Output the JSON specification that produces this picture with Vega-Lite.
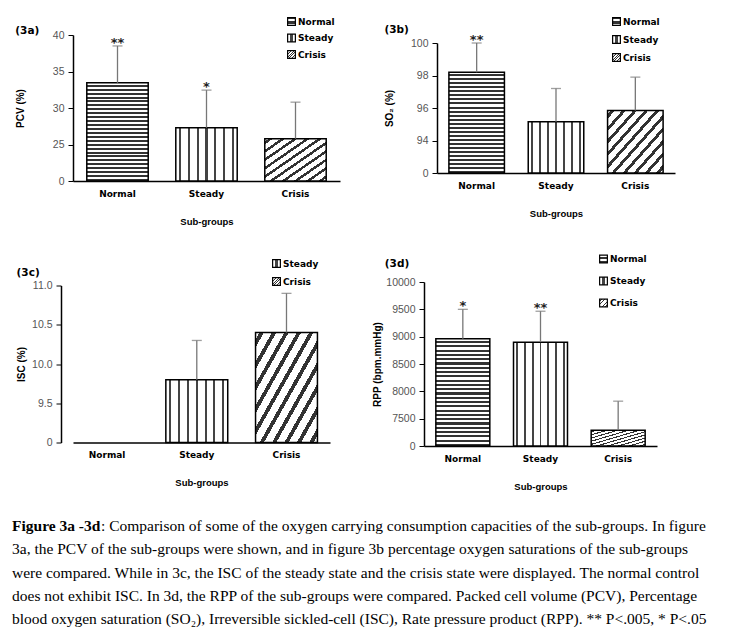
{
  "$schema": "https://vega.github.io/schema/vega-lite/v6.json",
  "padding": {"left": 12, "top": 17, "right": 0, "bottom": 0},
  "params": [
    {"name": "gN", "expr": "{gradient:'linear',x1:0,y1:0,x2:0,y2:1,stops:[{offset:0,color:'#fff'},{offset:0.02,color:'#fff'},{offset:0.02,color:'#333'},{offset:0.04,color:'#333'},{offset:0.04,color:'#fff'},{offset:0.06,color:'#fff'},{offset:0.06,color:'#333'},{offset:0.08,color:'#333'},{offset:0.08,color:'#fff'},{offset:0.1,color:'#fff'},{offset:0.1,color:'#333'},{offset:0.12,color:'#333'},{offset:0.12,color:'#fff'},{offset:0.14,color:'#fff'},{offset:0.14,color:'#333'},{offset:0.16,color:'#333'},{offset:0.16,color:'#fff'},{offset:0.18,color:'#fff'},{offset:0.18,color:'#333'},{offset:0.2,color:'#333'},{offset:0.2,color:'#fff'},{offset:0.22,color:'#fff'},{offset:0.22,color:'#333'},{offset:0.24,color:'#333'},{offset:0.24,color:'#fff'},{offset:0.26,color:'#fff'},{offset:0.26,color:'#333'},{offset:0.28,color:'#333'},{offset:0.28,color:'#fff'},{offset:0.3,color:'#fff'},{offset:0.3,color:'#333'},{offset:0.32,color:'#333'},{offset:0.32,color:'#fff'},{offset:0.34,color:'#fff'},{offset:0.34,color:'#333'},{offset:0.36,color:'#333'},{offset:0.36,color:'#fff'},{offset:0.38,color:'#fff'},{offset:0.38,color:'#333'},{offset:0.4,color:'#333'},{offset:0.4,color:'#fff'},{offset:0.42,color:'#fff'},{offset:0.42,color:'#333'},{offset:0.44,color:'#333'},{offset:0.44,color:'#fff'},{offset:0.46,color:'#fff'},{offset:0.46,color:'#333'},{offset:0.48,color:'#333'},{offset:0.48,color:'#fff'},{offset:0.5,color:'#fff'},{offset:0.5,color:'#333'},{offset:0.52,color:'#333'},{offset:0.52,color:'#fff'},{offset:0.54,color:'#fff'},{offset:0.54,color:'#333'},{offset:0.56,color:'#333'},{offset:0.56,color:'#fff'},{offset:0.58,color:'#fff'},{offset:0.58,color:'#333'},{offset:0.6,color:'#333'},{offset:0.6,color:'#fff'},{offset:0.62,color:'#fff'},{offset:0.62,color:'#333'},{offset:0.64,color:'#333'},{offset:0.64,color:'#fff'},{offset:0.66,color:'#fff'},{offset:0.66,color:'#333'},{offset:0.68,color:'#333'},{offset:0.68,color:'#fff'},{offset:0.7,color:'#fff'},{offset:0.7,color:'#333'},{offset:0.72,color:'#333'},{offset:0.72,color:'#fff'},{offset:0.74,color:'#fff'},{offset:0.74,color:'#333'},{offset:0.76,color:'#333'},{offset:0.76,color:'#fff'},{offset:0.78,color:'#fff'},{offset:0.78,color:'#333'},{offset:0.8,color:'#333'},{offset:0.8,color:'#fff'},{offset:0.82,color:'#fff'},{offset:0.82,color:'#333'},{offset:0.84,color:'#333'},{offset:0.84,color:'#fff'},{offset:0.86,color:'#fff'},{offset:0.86,color:'#333'},{offset:0.88,color:'#333'},{offset:0.88,color:'#fff'},{offset:0.9,color:'#fff'},{offset:0.9,color:'#333'},{offset:0.92,color:'#333'},{offset:0.92,color:'#fff'},{offset:0.94,color:'#fff'},{offset:0.94,color:'#333'},{offset:0.96,color:'#333'},{offset:0.96,color:'#fff'},{offset:0.98,color:'#fff'},{offset:0.98,color:'#333'},{offset:1,color:'#333'}]}"},
    {"name": "gS", "expr": "{gradient:'linear',x1:0,y1:0,x2:1,y2:0,stops:[{offset:0,color:'#fff'},{offset:0.055,color:'#fff'},{offset:0.055,color:'#444'},{offset:0.088,color:'#444'},{offset:0.088,color:'#fff'},{offset:0.198,color:'#fff'},{offset:0.198,color:'#444'},{offset:0.231,color:'#444'},{offset:0.231,color:'#fff'},{offset:0.34,color:'#fff'},{offset:0.34,color:'#444'},{offset:0.374,color:'#444'},{offset:0.374,color:'#fff'},{offset:0.483,color:'#fff'},{offset:0.483,color:'#444'},{offset:0.517,color:'#444'},{offset:0.517,color:'#fff'},{offset:0.626,color:'#fff'},{offset:0.626,color:'#444'},{offset:0.66,color:'#444'},{offset:0.66,color:'#fff'},{offset:0.769,color:'#fff'},{offset:0.769,color:'#444'},{offset:0.802,color:'#444'},{offset:0.802,color:'#fff'},{offset:0.912,color:'#fff'},{offset:0.912,color:'#444'},{offset:0.945,color:'#444'},{offset:0.945,color:'#fff'},{offset:1,color:'#fff'}]}"},
    {"name": "gC", "expr": "{gradient:'linear',x1:0,y1:0,x2:1,y2:1,stops:[{offset:0,color:'#fff'},{offset:0.0325,color:'#fff'},{offset:0.0325,color:'#333'},{offset:0.0675,color:'#333'},{offset:0.0675,color:'#fff'},{offset:0.1325,color:'#fff'},{offset:0.1325,color:'#333'},{offset:0.1675,color:'#333'},{offset:0.1675,color:'#fff'},{offset:0.2325,color:'#fff'},{offset:0.2325,color:'#333'},{offset:0.2675,color:'#333'},{offset:0.2675,color:'#fff'},{offset:0.3325,color:'#fff'},{offset:0.3325,color:'#333'},{offset:0.3675,color:'#333'},{offset:0.3675,color:'#fff'},{offset:0.4325,color:'#fff'},{offset:0.4325,color:'#333'},{offset:0.4675,color:'#333'},{offset:0.4675,color:'#fff'},{offset:0.5325,color:'#fff'},{offset:0.5325,color:'#333'},{offset:0.5675,color:'#333'},{offset:0.5675,color:'#fff'},{offset:0.6325,color:'#fff'},{offset:0.6325,color:'#333'},{offset:0.6675,color:'#333'},{offset:0.6675,color:'#fff'},{offset:0.7325,color:'#fff'},{offset:0.7325,color:'#333'},{offset:0.7675,color:'#333'},{offset:0.7675,color:'#fff'},{offset:0.8325,color:'#fff'},{offset:0.8325,color:'#333'},{offset:0.8675,color:'#333'},{offset:0.8675,color:'#fff'},{offset:0.9325,color:'#fff'},{offset:0.9325,color:'#333'},{offset:0.9675,color:'#333'},{offset:0.9675,color:'#fff'},{offset:1,color:'#fff'}]}"}
  ],
  "datasets": {
    "bars": [
      {"panel": "3a", "group": "Normal", "value": 33.45, "upper": 38.5, "star": "**"},
      {"panel": "3a", "group": "Steady", "value": 27.3, "upper": 32.45, "star": "*"},
      {"panel": "3a", "group": "Crisis", "value": 25.8, "upper": 30.8, "star": ""},
      {"panel": "3b", "group": "Normal", "value": 98.2, "upper": 100, "star": "**"},
      {"panel": "3b", "group": "Steady", "value": 95.15, "upper": 97.2, "star": ""},
      {"panel": "3b", "group": "Crisis", "value": 95.85, "upper": 97.9, "star": ""},
      {"panel": "3c", "group": "Steady", "value": 9.8, "upper": 10.3, "star": ""},
      {"panel": "3c", "group": "Crisis", "value": 10.4, "upper": 10.9, "star": ""},
      {"panel": "3d", "group": "Normal", "value": 8960, "upper": 9500, "star": "*"},
      {"panel": "3d", "group": "Steady", "value": 8900, "upper": 9465, "star": "**"},
      {"panel": "3d", "group": "Crisis", "value": 7290, "upper": 7820, "star": ""}
    ],
    "caption": [
      {"line": 1, "part": "bold", "text": "Figure 3a -3d"},
      {"line": 1, "part": "rest", "text": ": Comparison of some of the oxygen carrying consumption capacities of the sub-groups. In figure"},
      {"line": 2, "part": "body", "text": "3a, the PCV of the sub-groups were shown, and in figure 3b percentage oxygen saturations of the sub-groups"},
      {"line": 3, "part": "body", "text": "were compared. While in 3c, the ISC of the steady state and the crisis state were displayed. The normal control"},
      {"line": 4, "part": "body", "text": "does not exhibit ISC. In 3d, the RPP of the sub-groups were compared. Packed cell volume (PCV), Percentage"},
      {"line": 5, "part": "body", "text": "blood oxygen saturation (SO₂), Irreversible sickled-cell (ISC), Rate pressure product (RPP). ** P<.005, * P<.05"}
    ]
  },
  "vconcat": [
    {
      "vconcat": [
        {
          "hconcat": [
            {
              "width": 267, "height": 146,
              "title": {"text": "(3a)", "offset": -19},
              "data": {"name": "bars"},
              "transform": [{"filter": "datum.panel == '3a'"}],
              "encoding": {"x": {"field": "group", "type": "nominal", "scale": {"domain": ["Normal", "Steady", "Crisis"], "paddingInner": 0.31, "paddingOuter": 0.155}, "axis": {"title": "Sub-groups", "labelAngle": 0}}},
              "layer": [
                {"mark": {"type": "bar", "stroke": "black", "strokeWidth": 1.5},
                 "encoding": {
                   "y": {"field": "value", "type": "quantitative", "title": "PCV (%)", "scale": {"domain": [20, 40], "nice": false, "zero": false}, "axis": {"values": [20, 25, 30, 35, 40], "labelExpr": "datum.value == 20 ? '0' : datum.label", "titlePadding": 27, "titleFontSize": 10}},
                   "y2": {"datum": 20},
                   "fill": {"field": "group", "type": "nominal", "scale": {"domain": ["Normal", "Steady", "Crisis"], "range": [{"expr": "gN"}, {"expr": "gS"}, {"expr": "gC"}]}, "legend": {"title": null, "legendX": 214, "legendY": -18, "rowPadding": 3.5}}
                 }},
                {"mark": {"type": "rule", "color": "#777", "strokeWidth": 1.3},
                 "encoding": {"y": {"field": "value", "type": "quantitative", "title": "PCV (%)", "axis": {"values": [20, 25, 30, 35, 40], "labelExpr": "datum.value == 20 ? '0' : datum.label", "titlePadding": 27, "titleFontSize": 10}}, "y2": {"field": "upper"}}},
                {"mark": {"type": "tick", "color": "#777", "thickness": 1.3, "size": 10},
                 "encoding": {"y": {"field": "upper", "type": "quantitative", "title": "PCV (%)", "axis": {"values": [20, 25, 30, 35, 40], "labelExpr": "datum.value == 20 ? '0' : datum.label", "titlePadding": 27, "titleFontSize": 10}}}},
                {"mark": {"type": "text", "font": "DejaVu Sans", "fontWeight": "bold", "fontSize": 13, "baseline": "alphabetic", "dy": 1, "color": "#222"},
                 "encoding": {"y": {"field": "upper", "type": "quantitative", "title": "PCV (%)", "axis": {"values": [20, 25, 30, 35, 40], "labelExpr": "datum.value == 20 ? '0' : datum.label", "titlePadding": 27, "titleFontSize": 10}}, "text": {"field": "star"}}}
              ]
            },
            {
              "width": 238, "height": 130,
              "title": {"text": "(3b)", "offset": -18},
              "data": {"name": "bars"},
              "transform": [{"filter": "datum.panel == '3b'"}],
              "encoding": {"x": {"field": "group", "type": "nominal", "scale": {"domain": ["Normal", "Steady", "Crisis"], "paddingInner": 0.3, "paddingOuter": 0.15}, "axis": {"title": "Sub-groups", "labelAngle": 0}}},
              "layer": [
                {"mark": {"type": "bar", "stroke": "black", "strokeWidth": 1.5},
                 "encoding": {
                   "y": {"field": "value", "type": "quantitative", "title": "SO₂ (%)", "scale": {"domain": [92, 100], "nice": false, "zero": false}, "axis": {"values": [92, 94, 96, 98, 100], "format": "d", "labelExpr": "datum.value == 92 ? '0' : datum.label", "titlePadding": 16, "titleFontSize": 10}},
                   "y2": {"datum": 92},
                   "fill": {"field": "group", "type": "nominal", "scale": {"domain": ["Normal", "Steady", "Crisis"], "range": [{"expr": "gN"}, {"expr": "gS"}, {"expr": "gC"}]}, "legend": {"title": null, "legendX": 175, "legendY": -26, "rowPadding": 5}}
                 }},
                {"mark": {"type": "rule", "color": "#777", "strokeWidth": 1.3},
                 "encoding": {"y": {"field": "value", "type": "quantitative", "title": "SO₂ (%)", "axis": {"values": [92, 94, 96, 98, 100], "format": "d", "labelExpr": "datum.value == 92 ? '0' : datum.label", "titlePadding": 16, "titleFontSize": 10}}, "y2": {"field": "upper"}}},
                {"mark": {"type": "tick", "color": "#777", "thickness": 1.3, "size": 10},
                 "encoding": {"y": {"field": "upper", "type": "quantitative", "title": "SO₂ (%)", "axis": {"values": [92, 94, 96, 98, 100], "format": "d", "labelExpr": "datum.value == 92 ? '0' : datum.label", "titlePadding": 16, "titleFontSize": 10}}}},
                {"mark": {"type": "text", "font": "DejaVu Sans", "fontWeight": "bold", "fontSize": 13, "baseline": "alphabetic", "dy": 1, "color": "#222"},
                 "encoding": {"y": {"field": "upper", "type": "quantitative", "title": "SO₂ (%)", "axis": {"values": [92, 94, 96, 98, 100], "format": "d", "labelExpr": "datum.value == 92 ? '0' : datum.label", "titlePadding": 16, "titleFontSize": 10}}, "text": {"field": "star"}}}
              ]
            }
          ],
          "spacing": 97, "bounds": "flush", "center": true,
          "resolve": {"scale": {"fill": "independent"}, "legend": {"fill": "independent"}}
        },
        {
          "hconcat": [
            {
              "width": 257, "height": 157,
              "title": {"text": "(3c)", "offset": -19.5},
              "data": {"name": "bars"},
              "transform": [{"filter": "datum.panel == '3c'"}],
              "encoding": {"x": {"field": "group", "type": "nominal", "scale": {"domain": ["Normal", "Steady", "Crisis"], "paddingInner": 0.31, "paddingOuter": 0.0875, "align": 0.2}, "axis": {"title": "Sub-groups", "labelAngle": 0}}},
              "layer": [
                {"mark": {"type": "bar", "stroke": "black", "strokeWidth": 1.5},
                 "encoding": {
                   "y": {"field": "value", "type": "quantitative", "title": "ISC (%)", "scale": {"domain": [9, 11], "nice": false, "zero": false}, "axis": {"offset": 12, "values": [9, 9.5, 10, 10.5, 11], "labelExpr": "datum.value == 9 ? '0' : format(datum.value, '.1f')", "titlePadding": 5, "titleFontSize": 10}},
                   "y2": {"datum": 9},
                   "fill": {"field": "group", "type": "nominal", "scale": {"domain": ["Normal", "Steady", "Crisis"], "range": [{"expr": "gN"}, {"expr": "gS"}, {"expr": "gC"}]}, "legend": {"title": null, "values": ["Steady", "Crisis"], "legendX": 199, "legendY": -26.5, "rowPadding": 5}}
                 }},
                {"mark": {"type": "rule", "color": "#777", "strokeWidth": 1.3},
                 "encoding": {"y": {"field": "value", "type": "quantitative", "title": "ISC (%)", "axis": {"offset": 12, "values": [9, 9.5, 10, 10.5, 11], "labelExpr": "datum.value == 9 ? '0' : format(datum.value, '.1f')", "titlePadding": 5, "titleFontSize": 10}}, "y2": {"field": "upper"}}},
                {"mark": {"type": "tick", "color": "#777", "thickness": 1.3, "size": 10},
                 "encoding": {"y": {"field": "upper", "type": "quantitative", "title": "ISC (%)", "axis": {"offset": 12, "values": [9, 9.5, 10, 10.5, 11], "labelExpr": "datum.value == 9 ? '0' : format(datum.value, '.1f')", "titlePadding": 5, "titleFontSize": 10}}}}
              ]
            },
            {
              "width": 233, "height": 164,
              "title": {"text": "(3d)", "offset": -14.5, "dx": 12},
              "data": {"name": "bars"},
              "transform": [{"filter": "datum.panel == '3d'"}],
              "encoding": {"x": {"field": "group", "type": "nominal", "scale": {"domain": ["Normal", "Steady", "Crisis"], "paddingInner": 0.305, "paddingOuter": 0.1525}, "axis": {"title": "Sub-groups", "labelAngle": 0}}},
              "layer": [
                {"mark": {"type": "bar", "stroke": "black", "strokeWidth": 1.5},
                 "encoding": {
                   "y": {"field": "value", "type": "quantitative", "title": "RPP (bpm.mmHg)", "scale": {"domain": [7000, 10000], "nice": false, "zero": false}, "axis": {"values": [7000, 7500, 8000, 8500, 9000, 9500, 10000], "format": "d", "labelExpr": "datum.value == 7000 ? '0' : datum.label", "titlePadding": 3, "titleFontSize": 10}},
                   "y2": {"datum": 7000},
                   "fill": {"field": "group", "type": "nominal", "scale": {"domain": ["Normal", "Steady", "Crisis"], "range": [{"expr": "gN"}, {"expr": "gS"}, {"expr": "gC"}]}, "legend": {"title": null, "legendX": 175, "legendY": -27.5, "rowPadding": 9}}
                 }},
                {"mark": {"type": "rule", "color": "#777", "strokeWidth": 1.3},
                 "encoding": {"y": {"field": "value", "type": "quantitative", "title": "RPP (bpm.mmHg)", "axis": {"values": [7000, 7500, 8000, 8500, 9000, 9500, 10000], "format": "d", "labelExpr": "datum.value == 7000 ? '0' : datum.label", "titlePadding": 3, "titleFontSize": 10}}, "y2": {"field": "upper"}}},
                {"mark": {"type": "tick", "color": "#777", "thickness": 1.3, "size": 10},
                 "encoding": {"y": {"field": "upper", "type": "quantitative", "title": "RPP (bpm.mmHg)", "axis": {"values": [7000, 7500, 8000, 8500, 9000, 9500, 10000], "format": "d", "labelExpr": "datum.value == 7000 ? '0' : datum.label", "titlePadding": 3, "titleFontSize": 10}}}},
                {"mark": {"type": "text", "font": "DejaVu Sans", "fontWeight": "bold", "fontSize": 13, "baseline": "alphabetic", "dy": 1, "color": "#222"},
                 "encoding": {"y": {"field": "upper", "type": "quantitative", "title": "RPP (bpm.mmHg)", "axis": {"values": [7000, 7500, 8000, 8500, 9000, 9500, 10000], "format": "d", "labelExpr": "datum.value == 7000 ? '0' : datum.label", "titlePadding": 3, "titleFontSize": 10}}, "text": {"field": "star"}}}
              ]
            }
          ],
          "spacing": 94, "bounds": "flush", "center": true,
          "resolve": {"scale": {"fill": "independent"}, "legend": {"fill": "independent"}}
        }
      ],
      "spacing": 28,
      "resolve": {"scale": {"fill": "independent"}, "legend": {"fill": "independent"}}
    },
    {
      "width": 718, "height": 117,
      "data": {"name": "caption"},
      "encoding": {
        "x": {"datum": 0, "type": "quantitative", "scale": {"domain": [0, 1]}, "axis": null},
        "y": {"field": "line", "type": "ordinal", "scale": {"type": "point", "padding": 0.5}, "axis": null},
        "text": {"field": "text"}
      },
      "layer": [
        {"transform": [{"filter": "datum.part == 'bold'"}],
         "mark": {"type": "text", "align": "left", "baseline": "middle", "font": "Liberation Serif", "fontSize": 15.5, "fontWeight": "bold", "color": "black", "dx": -61}},
        {"transform": [{"filter": "datum.part == 'rest'"}],
         "mark": {"type": "text", "align": "left", "baseline": "middle", "font": "Liberation Serif", "fontSize": 15.5, "color": "black", "dx": 28}},
        {"transform": [{"filter": "datum.part == 'body'"}],
         "mark": {"type": "text", "align": "left", "baseline": "middle", "font": "Liberation Serif", "fontSize": 15.5, "color": "black", "dx": -61}}
      ]
    }
  ],
  "spacing": 23,
  "resolve": {"scale": {"fill": "independent"}, "legend": {"fill": "independent"}},
  "config": {
    "view": {"stroke": null},
    "font": "Liberation Sans",
    "axis": {"domainColor": "black", "domainWidth": 1.5, "grid": false, "tickColor": "black", "labelColor": "#555", "labelFont": "Liberation Sans", "labelFontSize": 10.5, "labelOverlap": false, "titleFont": "Liberation Sans", "titleFontWeight": "bold", "titleColor": "black"},
    "axisX": {"labelFont": "DejaVu Sans", "labelFontWeight": "bold", "labelFontSize": 9, "labelColor": "black", "ticks": false, "labelPadding": 8, "titlePadding": 18, "titleFontSize": 9.5},
    "axisY": {"tickSize": 5, "labelPadding": 4},
    "legend": {"orient": "none", "symbolType": "square", "symbolSize": 60, "symbolStrokeColor": "black", "symbolStrokeWidth": 1.2, "labelFont": "DejaVu Sans", "labelFontWeight": "bold", "labelFontSize": 9, "labelColor": "black", "labelOffset": 2, "padding": 0},
    "title": {"font": "DejaVu Sans", "fontSize": 10.5, "fontWeight": "bold", "color": "black", "anchor": "start", "frame": "bounds"}
  }
}
